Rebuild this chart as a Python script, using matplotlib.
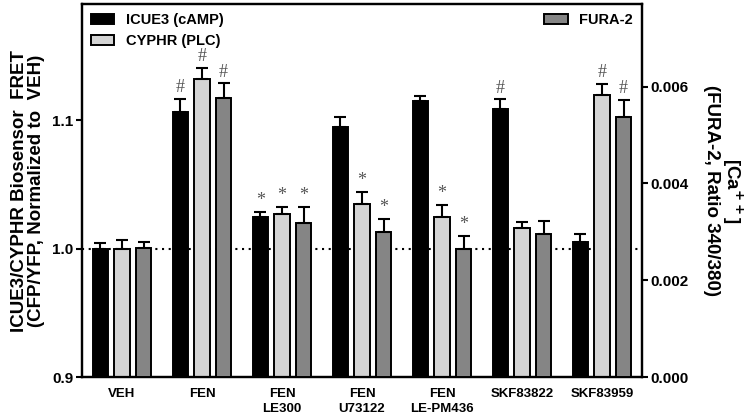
import matplotlib
matplotlib.use("Agg")
import matplotlib.pyplot as plt
import matplotlib.patches as mpatches
import numpy as np

GROUPS = ["VEH", "FEN", "FEN\nLE300", "FEN\nU73122", "FEN\nLE-PM436", "SKF83822", "SKF83959"]

ICUE3 = [1.000, 1.1065, 1.0245, 1.0945, 1.115, 1.1086, 1.0049]
ICUE3_ERR = [0.0045, 0.0099, 0.0044, 0.0078, 0.0039, 0.0076, 0.0065]
ICUE3_SIG = ["", "#", "*", "", "", "#", ""]

CYPHR = [1.000, 1.1318, 1.0271, 1.0349, 1.025, 1.0162, 1.1195]
CYPHR_ERR = [0.0065, 0.0088, 0.0057, 0.0091, 0.0091, 0.0044, 0.0091]
CYPHR_SIG = ["", "#", "*", "*", "*", "", "#"]

FURA2 = [0.00266, 0.00577, 0.00319, 0.00300, 0.00264, 0.00296, 0.00537]
FURA2_ERR = [0.00014, 0.00030, 0.00032, 0.00027, 0.00027, 0.00026, 0.00036]
FURA2_SIG = ["", "#", "*", "*", "*", "", "#"]

LEFT_TICKS = [0.9, 1.0, 1.1]
RIGHT_TICKS = [0.000, 0.002, 0.004, 0.006]

BLACK = "#000000"
LIGHT = "#d4d4d4"
DARK = "#858585"
MARK = "#555555"

plt.rcParams.update({
    "font.family": "Liberation Sans",
    "font.weight": "bold",
    "axes.labelweight": "bold",
    "axes.linewidth": 1.6,
})


def draw_series(ax, x, vals, errs, sigs, color):
    ax.bar(x, vals, width=0.19, color=color, edgecolor="black", linewidth=1.4, zorder=3)
    ax.errorbar(x, vals, yerr=[np.zeros(len(vals)), errs], fmt="none", ecolor="black",
                elinewidth=1.5, capsize=4, capthick=1.5, zorder=4)
    for xi, v, e, s in zip(x, vals, errs, sigs):
        if s:
            ax.annotate(s, (xi, v + e), xytext=(0, 2), textcoords="offset points",
                        ha="center", va="bottom", fontsize=13, color=MARK,
                        family="Liberation Serif", fontweight="normal", zorder=5)


fig = plt.figure(figsize=(7.5, 4.18), dpi=100, facecolor="white")
ax = fig.add_axes([0.1093, 0.098, 0.7467, 0.8925])
ax2 = ax.twinx()

x = np.arange(len(GROUPS))
off = 0.27

ax.axhline(1.0, color="black", lw=1.5, ls=(0, (1, 2.2)), zorder=1)
draw_series(ax, x - off, ICUE3, ICUE3_ERR, ICUE3_SIG, BLACK)
draw_series(ax, x, CYPHR, CYPHR_ERR, CYPHR_SIG, LIGHT)
draw_series(ax2, x + off, FURA2, FURA2_ERR, FURA2_SIG, DARK)

ax.set_xlim(-0.5, len(GROUPS) - 0.5)
ax.set_ylim(0.9, 1.1906)
ax2.set_ylim(0.0, 0.00771)
ax.set_yticks(LEFT_TICKS)
ax.set_yticklabels([f"{t:.1f}" for t in LEFT_TICKS])
ax2.set_yticks(RIGHT_TICKS)
ax2.set_yticklabels([f"{t:.3f}" for t in RIGHT_TICKS])
ax.set_xticks(x)
ax.set_xticklabels(GROUPS, fontsize=9.5, linespacing=1.3)
ax.tick_params(axis="x", length=0, pad=8)
ax.tick_params(axis="y", labelsize=11, length=4, width=1.5, pad=2)
ax2.tick_params(axis="y", labelsize=11, length=4, width=1.5, pad=2)

ax.set_ylabel("ICUE3/CYPHR Biosensor  FRET\n(CFP/YFP, Normalized to  VEH)",
              fontsize=13.5, linespacing=1.02, labelpad=5)
ax2.set_ylabel("[Ca$^{\\mathbf{++}}$]\n(FURA-2, Ratio 340/380)", rotation=270,
               fontsize=13.5, linespacing=1.0, labelpad=40)

h1 = [mpatches.Patch(facecolor=BLACK, edgecolor="black", linewidth=1.4),
      mpatches.Patch(facecolor=LIGHT, edgecolor="black", linewidth=1.4)]
ax.legend(h1, ["ICUE3 (cAMP)", "CYPHR (PLC)"], loc="upper left", frameon=False,
          fontsize=10.5, handlelength=1.6, handleheight=0.7, handletextpad=0.8,
          labelspacing=0.5, borderaxespad=0.2, borderpad=0.4)
h2 = [mpatches.Patch(facecolor=DARK, edgecolor="black", linewidth=1.4)]
ax2.legend(h2, ["FURA-2"], loc="upper right", frameon=False, fontsize=10.5,
           handlelength=1.6, handleheight=0.7, handletextpad=0.8,
           borderaxespad=0.2, borderpad=0.4)

fig.savefig("out.png", dpi=100, facecolor="white")
